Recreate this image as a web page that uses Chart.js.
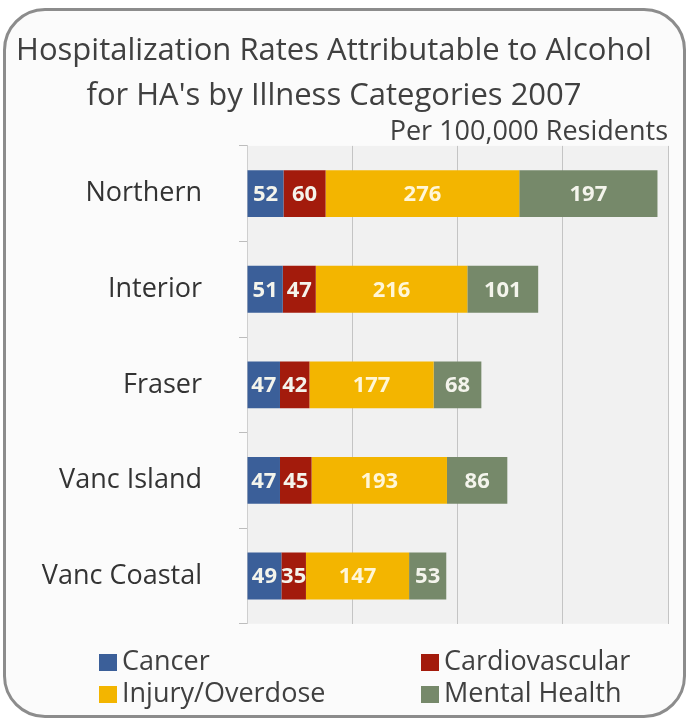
<!DOCTYPE html>
<html>
<head>
<meta charset="utf-8">
<script src="https://cdn.jsdelivr.net/npm/chart.js@4/dist/chart.umd.min.js"></script>
<style>
	body { margin: 0; background: #fff; font-family: "Open Sans", Lato, sans-serif; }
	#frame {
		position: absolute; left: 3px; top: 8px; width: 677px; height: 704px;
		border: 3px solid #8c8c8c; border-radius: 42px; background: #fbfbfb;
	}
	#wrap { position: absolute; left: 0; top: 0; width: 687px; height: 677px; }
	#legend { position: absolute; left: 0; top: 644px; width: 687px; height: 70px; }
	.item { position: absolute; font-size: 27px; color: #404040; line-height: 32px; white-space: nowrap; }
	.item span.box { display: inline-block; width: 18px; height: 17px; margin-right: 5px; vertical-align: -1px; }
</style>
</head>
<body>
<div id="frame"></div>
<div id="wrap"><canvas id="graph"></canvas></div>
<div id="legend"></div>
<script>
	const regions = ["Northern", "Interior", "Fraser", "Vanc Island", "Vanc Coastal"];
	const cancer = [52, 51, 47, 47, 49];
	const cardio = [60, 47, 42, 45, 35];
	const injury = [276, 216, 177, 193, 147];
	const mental = [197, 101, 68, 86, 53];
	const seriesNames = ["Cancer", "Cardiovascular", "Injury/Overdose", "Mental Health"];
	const seriesColors = ["#3b5f99", "#a31b0c", "#f3b500", "#76896a"];
	const fontFam = "'Open Sans', Lato, sans-serif";

	// light grey fill behind the bars
	const plotBg = {
		id: "plotBg",
		beforeDraw(chart) {
			const { ctx, chartArea: a } = chart;
			ctx.save();
			ctx.fillStyle = "#f1f1f1";
			ctx.fillRect(a.left, a.top, a.right - a.left, a.bottom - a.top);
			ctx.restore();
		},
	};

	// value labels in the middle of each segment
	const barLabels = {
		id: "barLabels",
		afterDatasetsDraw(chart) {
			const ctx = chart.ctx;
			ctx.save();
			ctx.font = "bold 22px " + fontFam;
			ctx.textAlign = "center";
			ctx.textBaseline = "middle";
			chart.data.datasets.forEach((ds, i) => {
				chart.getDatasetMeta(i).data.forEach((bar, j) => {
					const x = (bar.x + bar.base) / 2;
					ctx.fillStyle = i === 2 ? "#fff6d8" : "#f4f4ec";
					ctx.fillText(ds.data[j], x, bar.y + 1);
				});
			});
			ctx.restore();
		},
	};

	const ctx = document.getElementById("graph").getContext("2d");
	const barChart = new Chart(ctx, {
		type: "bar",
		data: {
			labels: regions,
			datasets: [cancer, cardio, injury, mental].map((d, i) => ({
				label: seriesNames[i],
				data: d,
				backgroundColor: seriesColors[i],
				categoryPercentage: 1,
				barPercentage: 0.49,
			})),
		},
		options: {
			indexAxis: "y",
			responsive: true,
			maintainAspectRatio: false,
			animation: false,
			layout: { padding: { top: 29, right: 19, left: 0, bottom: 17 } },
			plugins: {
				legend: { display: false },
				tooltip: { enabled: false },
				title: {
					display: true,
					text: ["Hospitalization Rates Attributable to Alcohol", "for HA's by Illness Categories 2007"],
					color: "#404040",
					font: { family: fontFam, size: 31, weight: "normal", lineHeight: 1.45 },
					padding: { top: 0, bottom: 0 },
				},
				subtitle: {
					display: true,
					text: "Per 100,000 Residents",
					align: "end",
					color: "#404040",
					font: { family: fontFam, size: 27, lineHeight: 1.0 },
					padding: { top: 0, bottom: 0 },
				},
			},
			scales: {
				x: {
					stacked: true,
					min: 0,
					max: 600,
					afterFit(scale) { scale.height = 0; },
					ticks: { display: false, stepSize: 150 },
					grid: { color: "#c4c4c4", drawTicks: false },
					border: { display: false },
				},
				y: {
					stacked: true,
					afterFit(scale) { scale.width = 247; },
					ticks: {
						color: "#333",
						font: { family: fontFam, size: 27 },
						padding: 37,
					},
					grid: { offset: true, drawOnChartArea: false, color: "#bdbdbd", tickLength: 8 },
					border: { color: "#cfcfcf" },
				},
			},
		},
		plugins: [plotBg, barLabels],
	});

	// legend in two columns, like the original
	const legendPos = [[99, 0], [421, 0], [99, 32], [421, 32]];
	const legend = document.getElementById("legend");
	seriesNames.forEach((name, i) => {
		const el = document.createElement("div");
		el.className = "item";
		el.style.left = legendPos[i][0] + "px";
		el.style.top = legendPos[i][1] + "px";
		el.innerHTML = '<span class="box" style="background:' + seriesColors[i] + '"></span>' + name;
		legend.appendChild(el);
	});
</script>
</body>
</html>
